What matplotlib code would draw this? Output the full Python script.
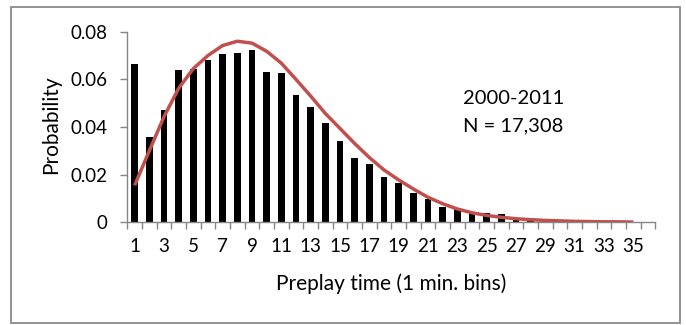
import matplotlib
matplotlib.use("Agg")
import matplotlib.pyplot as plt
from matplotlib.patches import Rectangle
import numpy as np

categories = list(range(1, 37))
probability = [0.0665, 0.0358, 0.0473, 0.0638, 0.0643, 0.0680, 0.0705, 0.0712, 0.0722,
               0.0630, 0.0625, 0.0536, 0.0483, 0.0418, 0.0343, 0.0269, 0.0245, 0.0191,
               0.0164, 0.0124, 0.0098, 0.0066, 0.0054, 0.0042, 0.0038, 0.0034, 0.0013,
               0.0005, 0.0003, 0.0011, 0.0002, 0.0001, 0.0001, 0.0001, 0.0001, 0.0]
fit_x = list(range(1, 36))
fit_y = [0.0155, 0.0300, 0.0443, 0.0562, 0.0645, 0.0700, 0.0742, 0.0760, 0.0752,
         0.0718, 0.0668, 0.0600, 0.0530, 0.0457, 0.0394, 0.0331, 0.0272, 0.0220,
         0.0178, 0.0140, 0.0105, 0.0078, 0.0056, 0.0040, 0.0029, 0.0021, 0.0015,
         0.0011, 0.0008, 0.0006, 0.0004, 0.0003, 0.0002, 0.0002, 0.0001]
xtick_labels = [str(v) for v in range(1, 36, 2)]
ytick_values = [0, 0.02, 0.04, 0.06, 0.08]
ytick_labels = ["0", "0.02", "0.04", "0.06", "0.08"]

plt.rcParams['font.family'] = ['Lato', 'DejaVu Sans']

fig = plt.figure(figsize=(6.86, 3.25), dpi=100)
ax = fig.add_axes([127.3/686, 1-222.3/325, (655.3-127.3)/686, (222.3-31.7)/325])

ax.bar(categories, probability, width=0.46, color='black', zorder=2)
ax.plot(fit_x, fit_y, color='#C0504D', lw=2.5, zorder=3, solid_capstyle='butt')

ax.set_xlim(0.5, 36.5)
ax.set_ylim(0, 0.08)

gray = '#868686'
for s in ['top', 'right']:
    ax.spines[s].set_visible(False)
for s in ['left', 'bottom']:
    ax.spines[s].set_color(gray)
    ax.spines[s].set_linewidth(1.0)

ax.set_xticks(np.arange(0.5, 37, 1.0))
ax.set_xticklabels([])
ax.tick_params(axis='x', which='major', length=5, color=gray, width=1.0)
ax.set_xticks(list(range(1, 36, 2)), minor=True)
ax.set_xticklabels(xtick_labels, minor=True)
ax.tick_params(axis='x', which='minor', length=0, labelsize=13.5, pad=11)

ax.set_yticks(ytick_values)
ax.set_yticklabels(ytick_labels)
ax.tick_params(axis='y', length=5, color=gray, width=1.0, labelsize=13.5, pad=9)

ax.set_xlabel("Preplay time (1 min. bins)", fontsize=15, va='center')
ax.xaxis.set_label_coords(0.5, (222.3-284)/190.6)
ax.set_ylabel("Probability", fontsize=15, va='center')
ax.yaxis.set_label_coords((51-127.3)/528, (222.3-125)/190.6)

ax.text(463/686, 1-98/325, "2000-2011", transform=fig.transFigure, fontsize=14.5,
        va='center', ha='left')
ax.text(463/686, 1-126/325, "N = 17,308", transform=fig.transFigure, fontsize=14.5,
        va='center', ha='left')

fig.patches.append(Rectangle((10.5/686, 1-322.5/325), (680-10.5)/686, (322.5-6.5)/325,
                             transform=fig.transFigure, fill=False, edgecolor='#8a8a8a',
                             lw=1.3, zorder=0))

fig.savefig("out.png", dpi=100)
